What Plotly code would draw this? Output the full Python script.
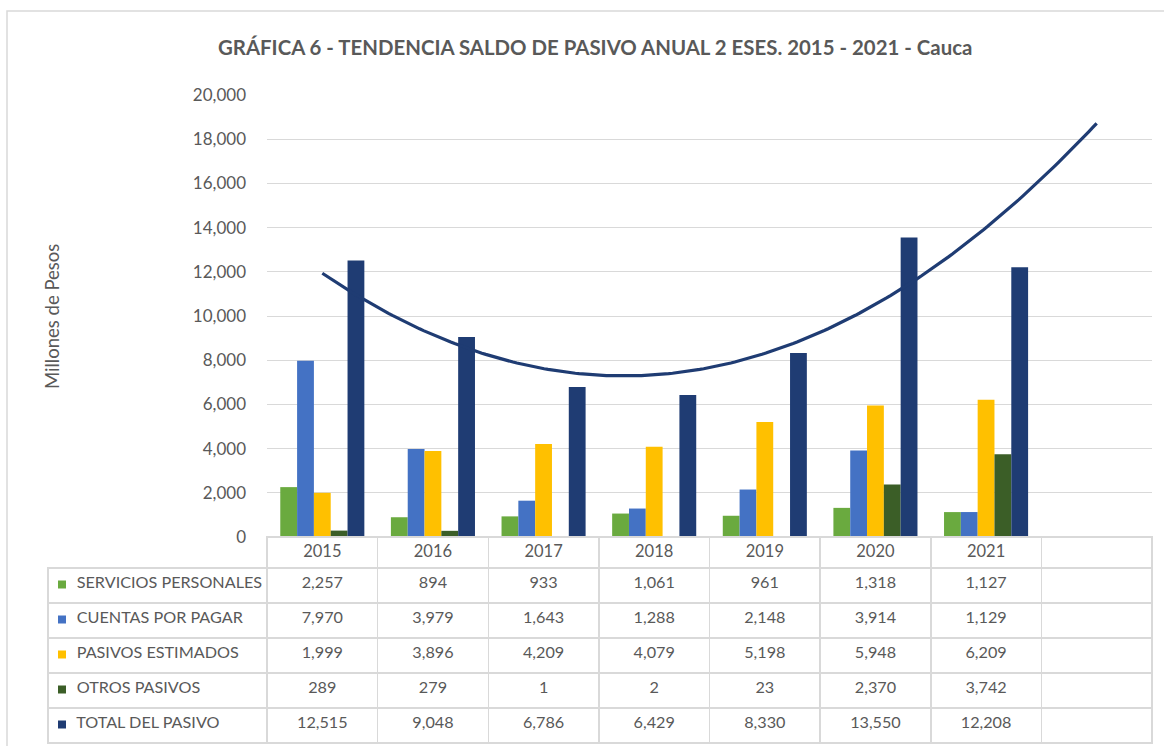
import numpy as np
import plotly.graph_objects as go

years = ["2015", "2016", "2017", "2018", "2019", "2020", "2021"]
servicios_personales = [2257, 894, 933, 1061, 961, 1318, 1127]
cuentas_por_pagar = [7970, 3979, 1643, 1288, 2148, 3914, 1129]
pasivos_estimados = [1999, 3896, 4209, 4079, 5198, 5948, 6209]
otros_pasivos = [289, 279, 1, 2, 23, 2370, 3742]
total_pasivo = [12515, 9048, 6786, 6429, 8330, 13550, 12208]

series_names = ["SERVICIOS PERSONALES", "CUENTAS POR PAGAR", "PASIVOS ESTIMADOS",
                "OTROS PASIVOS", "TOTAL DEL PASIVO"]
series_values = [servicios_personales, cuentas_por_pagar, pasivos_estimados,
                 otros_pasivos, total_pasivo]
colors = ["#6AAA3F", "#4472C4", "#FFC000", "#3B5E27", "#1F3C73"]

title = "GRÁFICA 6 - TENDENCIA SALDO DE PASIVO ANUAL 2 ESES. 2015 - 2021 - Cauca"
y_title = "Millones de Pesos"

W, H = 1164, 746
px_l, px_r = 267, 1152   # plot area x
px_t, px_b = 95, 537     # plot area y
tbl_l = 48
hdr_h, row_h = 31, 35

FONT = "Lato, Calibri, Carlito, sans-serif"
GRAY = "#595959"
GRID = "#D9D9D9"

xpos = list(range(1, len(years) + 1))

fig = go.Figure()
for name, vals, col in zip(series_names, series_values, colors):
    fig.add_trace(go.Bar(x=xpos, y=vals, name=name, marker=dict(color=col, line=dict(width=0)),
                         showlegend=False, hoverinfo="y+name"))

# second-order polynomial trend line on the total, forecast forward 1 period
coef = np.polyfit(xpos, total_pasivo, 2)
xt = np.linspace(1, len(years) + 1, 200)
yt = np.polyval(coef, xt)
fig.add_trace(go.Scatter(x=xt, y=yt, mode="lines", line=dict(color="#1F3C73", width=3.2),
                         showlegend=False, hoverinfo="skip"))

# data table
NB = "\u00a0"
row_labels = [NB * 5 + n.replace(" ", NB) for n in series_names]
cols = [row_labels] + [[f"{s[i]:,}" for s in series_values] for i in range(len(years))] + [[""] * 5]
header_vals = [""] + years + [""]
ncols = len(header_vals)
fig.add_trace(go.Table(
    domain=dict(x=[tbl_l / W, px_r / W], y=[0, 1 - px_b / H]),
    columnwidth=[px_l - tbl_l] + [(px_r - px_l) / 8] * 8,
    header=dict(values=header_vals, height=hdr_h, align="center",
                fill=dict(color=["rgba(0,0,0,0)"] + ["white"] * (ncols - 1)),
                line=dict(color=["rgba(0,0,0,0)"] + [GRID] * (ncols - 1), width=1.5),
                font=dict(family=FONT, size=16.5, color=GRAY)),
    cells=dict(values=cols, height=row_h, align=["left"] + ["center"] * (ncols - 1),
               fill=dict(color="white"), line=dict(color=GRID, width=1.5),
               font=dict(family=FONT, size=16.2, color=GRAY)),
))

# legend keys (small colour squares) inside the table's first column
shapes = [dict(type="rect", xref="paper", yref="paper", x0=7 / W, x1=1.01,
               y0=-0.01, y1=1 - 11 / H, line=dict(color=GRID, width=1.5))]
for i, c in enumerate(colors):
    yc = px_b + hdr_h + row_h * (i + 0.5) - 1
    shapes.append(dict(type="rect", xref="paper", yref="paper",
                       x0=58 / W, x1=66 / W, y0=1 - (yc + 4) / H, y1=1 - (yc - 4) / H,
                       fillcolor=c, line=dict(width=0), layer="above"))

annotations = [
    dict(text=f"<b>{title}</b>", x=595 / W, y=1 - 47 / H, xref="paper", yref="paper",
         showarrow=False, font=dict(family=FONT, size=20.4, color=GRAY),
         xanchor="center", yanchor="middle"),
    dict(text=y_title, x=52 / W, y=1 - 317 / H, xref="paper", yref="paper",
         showarrow=False, textangle=-90, font=dict(family=FONT, size=18.5, color=GRAY),
         xanchor="center", yanchor="middle"),
]

fig.update_layout(
    template="none",
    width=W, height=H, autosize=False,
    margin=dict(l=0, r=0, t=0, b=0, pad=0),
    paper_bgcolor="white", plot_bgcolor="white",
    barmode="group", bargap=0.24, bargroupgap=0,
    font=dict(family=FONT, color=GRAY),
    xaxis=dict(domain=[px_l / W, px_r / W], range=[0.5, 8.5], showticklabels=False,
               showgrid=False, zeroline=False, showline=False, ticks="", automargin=False),
    yaxis=dict(domain=[1 - px_b / H, 1 - px_t / H], range=[0, 20000], dtick=2000,
               tickformat=",", showgrid=True, gridcolor=GRID, gridwidth=1.3,
               zeroline=False, showline=False, ticks="", automargin=False,
               tickfont=dict(family=FONT, size=17, color=GRAY), ticklabelstandoff=20),
    annotations=annotations,
    shapes=shapes,
)

fig.write_html(
    "out.html",
    config={"displayModeBar": False},
    post_script=("document.documentElement.style.margin='0';"
                 "document.documentElement.style.overflow='hidden';"
                 "document.body.style.margin='0';document.body.style.padding='0';"
                 "document.body.style.overflow='hidden';"),
)
